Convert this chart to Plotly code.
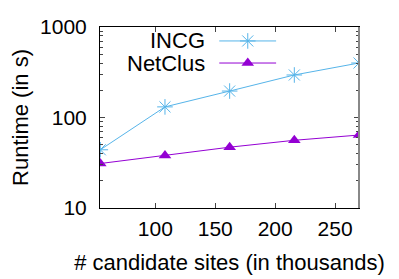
import plotly.graph_objects as go

sites = [54, 108, 162, 216, 270]
incg = [44, 131, 196, 295, 400]
netclus = [31, 38, 47, 56, 64]
x_ticks = [100, 150, 200, 250]
y_ticks = [10, 100, 1000]
y_minor = [20, 30, 40, 50, 60, 70, 80, 90, 200, 300, 400, 500, 600, 700, 800, 900]
names = ["INCG", "NetClus"]
colors = ["#56b4e9", "#9400d3"]

FONT = "Liberation Sans, Arial, sans-serif"
OFF = 8  # page body margin

fig = go.Figure()
fig.add_trace(go.Scatter(x=sites, y=incg, mode="lines+markers", name=names[0],
                         line=dict(color=colors[0], width=1),
                         marker=dict(symbol="asterisk-open", size=13, color=colors[0],
                                     line=dict(color=colors[0], width=1)),
                         showlegend=False))
fig.add_trace(go.Scatter(x=sites, y=netclus, mode="lines+markers", name=names[1],
                         line=dict(color=colors[1], width=1),
                         marker=dict(symbol="triangle-up", size=11, color=colors[1]),
                         showlegend=False))

# manual gnuplot-style legend (text left, sample right)
leg_y = [0.923, 0.801]
symbols = [dict(symbol="asterisk-open", size=13, color=colors[0], line=dict(color=colors[0], width=1)),
           dict(symbol="triangle-up", size=11, color=colors[1])]
for i in range(2):
    fig.add_trace(go.Scatter(x=[0.4605, 0.68], y=[leg_y[i]] * 2, mode="lines",
                             line=dict(color=colors[i], width=1),
                             xaxis="x2", yaxis="y2", showlegend=False, hoverinfo="skip"))
    fig.add_trace(go.Scatter(x=[0.5705], y=[leg_y[i]], mode="markers",
                             marker=symbols[i],
                             xaxis="x2", yaxis="y2", showlegend=False, hoverinfo="skip"))
    fig.add_annotation(x=0.414, y=leg_y[i], xref="paper", yref="paper",
                       text=names[i], showarrow=False, xanchor="right", yanchor="middle",
                       font=dict(size=22, color="black", family=FONT))

fig.add_shape(type="line", xref="paper", yref="paper", x0=1, x1=1, y0=0, y1=1,
              line=dict(color="#888888", width=2))

fig.update_layout(
    width=399, height=279,
    margin=dict(l=99.5 - OFF, r=40 + OFF, t=27 - OFF, b=71 + OFF, autoexpand=False),
    plot_bgcolor="white", paper_bgcolor="white",
    font=dict(family=FONT, size=21, color="black"),
    xaxis=dict(range=[53.75, 270], tickvals=x_ticks, ticks="inside", ticklen=5,
               showgrid=False, zeroline=False, showline=True, linecolor="black",
               linewidth=1, mirror="ticks", tickcolor="#444444", automargin=False,
               ticklabelstandoff=2,
               title=dict(text="# candidate sites (in thousands)", standoff=15,
                          font=dict(size=22))),
    yaxis=dict(type="log", range=[1, 3], tickvals=y_ticks, ticktext=[str(v) for v in y_ticks],
               ticks="inside", ticklen=5, showgrid=False, zeroline=False,
               showline=True, linecolor="black", linewidth=1, mirror="ticks",
               tickcolor="#444444", ticklabelstandoff=8, automargin=False,
               minor=dict(tickvals=y_minor, ticks="inside", ticklen=3,
                          tickcolor="#444444", showgrid=False),
               title=dict(text="Runtime (in s)", standoff=8, font=dict(size=22))),
    xaxis2=dict(overlaying="x", range=[0, 1], visible=False, fixedrange=True),
    yaxis2=dict(overlaying="y", range=[0, 1], visible=False, fixedrange=True),
)

fig.write_html("out.html")
